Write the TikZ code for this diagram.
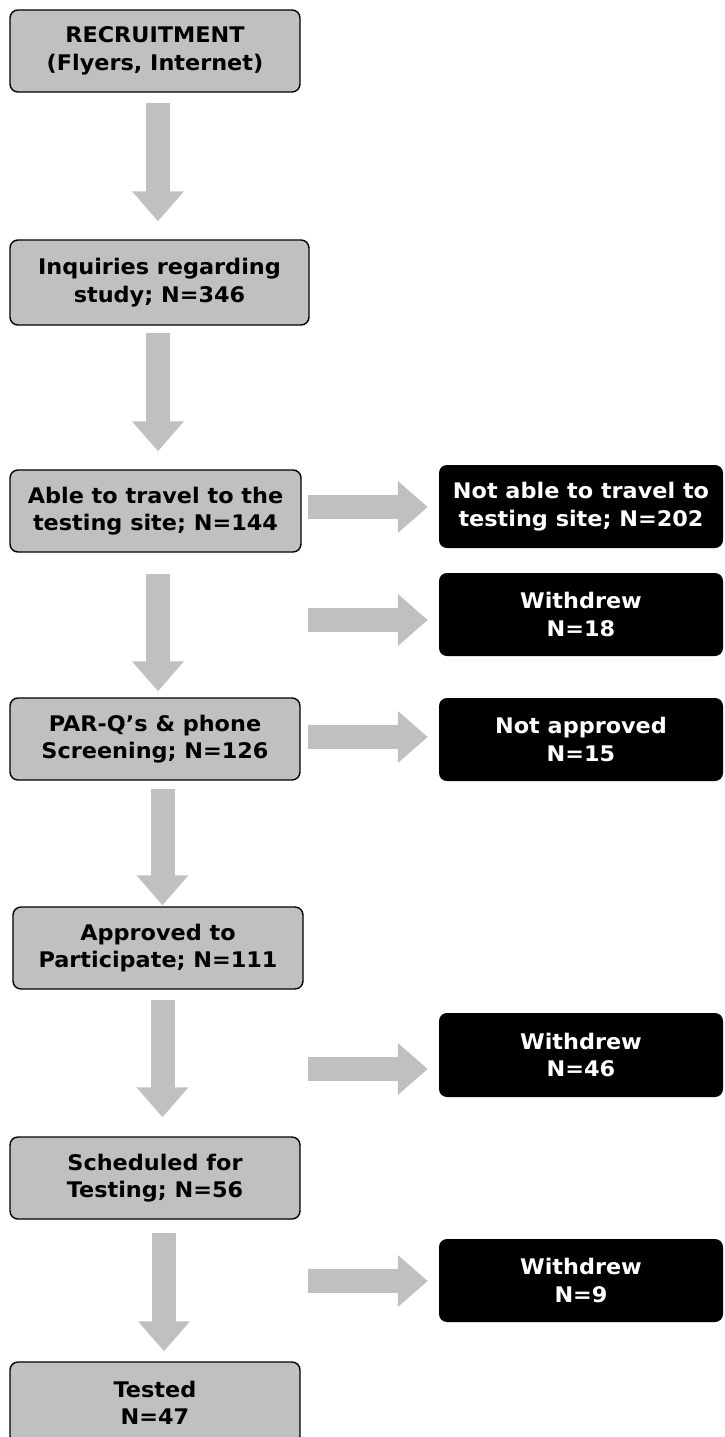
\documentclass[tikz,border=0pt]{standalone}
\usepackage{fontspec}
\setmainfont{DejaVu Sans}[FakeStretch=1.04]
\usetikzlibrary{arrows.meta}
\definecolor{boxgray}{HTML}{C0C0C0}
\definecolor{arrowgray}{HTML}{C0C0C0}
\begin{document}
\begin{tikzpicture}[x=1pt,y=-1pt,
  txt/.style={font=\bfseries\fontsize{21.5}{27.5}\selectfont},
  graybox/.style={txt, draw=black, line width=1.4pt, fill=boxgray, rounded corners=8pt,
    minimum width=290pt, minimum height=82pt, inner sep=0pt, align=center, text=black},
  blackbox/.style={txt, fill=black, rounded corners=8pt,
    minimum width=284pt, minimum height=83pt, inner sep=0pt, align=center, text=white},
  blockarrow/.style={draw=arrowgray, line width=24pt, -{Triangle[width=50pt,length=30pt]}},
]
\useasboundingbox (0,0) rectangle (724,1437);
\clip (0,0) rectangle (724,1437);

% main column
\node[graybox] (b1) at (155,51) {RECRUITMENT\\(Flyers, Internet)};
\node[graybox, minimum width=299pt, minimum height=85pt] (b2) at (159.5,282.5) {Inquiries regarding\\study; N=346};
\node[graybox, minimum width=291pt] (b3) at (155.5,511) {Able to travel to the\\testing site; N=144};
\node[graybox] (b4) at (155,739) {PAR-Q’s \& phone\\Screening; N=126};
\node[graybox] (b5) at (158,948) {Approved to\\Participate; N=111};
\node[graybox] (b6) at (155,1178) {Scheduled for\\Testing; N=56};
\node[graybox] (b7) at (155,1403) {Tested\\N=47};

% exclusions
\node[blackbox] (k1) at (581,506.5) {Not able to travel to\\testing site; N=202};
\node[blackbox] (k2) at (581,614.5) {Withdrew\\N=18};
\node[blackbox] (k3) at (581,739.5) {Not approved\\N=15};
\node[blackbox, minimum height=84pt] (k4) at (581,1055) {Withdrew\\N=46};
\node[blackbox] (k5) at (581,1280.5) {Withdrew\\N=9};

% downward arrows
\draw[blockarrow] ([xshift=3pt,yshift=-10pt]b1.south) -- ([xshift=-1.5pt,yshift=18pt]b2.north);
\draw[blockarrow] ([xshift=-1.5pt,yshift=-7pt]b2.south) -- ([xshift=2.5pt,yshift=18pt]b3.north);
\draw[blockarrow] ([xshift=2.5pt,yshift=-21pt]b3.south) -- ([xshift=3pt,yshift=6pt]b4.north);
\draw[blockarrow] ([xshift=7.5pt,yshift=-8pt]b4.south) -- ([xshift=4.5pt,yshift=1pt]b5.north);
\draw[blockarrow] ([xshift=4.5pt,yshift=-10pt]b5.south) -- ([xshift=7.5pt,yshift=19pt]b6.north);
\draw[blockarrow] ([xshift=9pt,yshift=-13pt]b6.south) -- ([xshift=9pt,yshift=10pt]b7.north);

% rightward arrows
\coordinate (s1) at (308,507);
\coordinate (s2) at (308,620);
\coordinate (s3) at (308,737);
\coordinate (s4) at (308,1069);
\coordinate (s5) at (308,1281);
\draw[blockarrow] (s1) -- ([xshift=-11pt]k1.west |- s1);
\draw[blockarrow] (s2) -- ([xshift=-11pt]k2.west |- s2);
\draw[blockarrow] (s3) -- ([xshift=-11pt]k3.west |- s3);
\draw[blockarrow] (s4) -- ([xshift=-11pt]k4.west |- s4);
\draw[blockarrow] (s5) -- ([xshift=-11pt]k5.west |- s5);
\end{tikzpicture}
\end{document}
